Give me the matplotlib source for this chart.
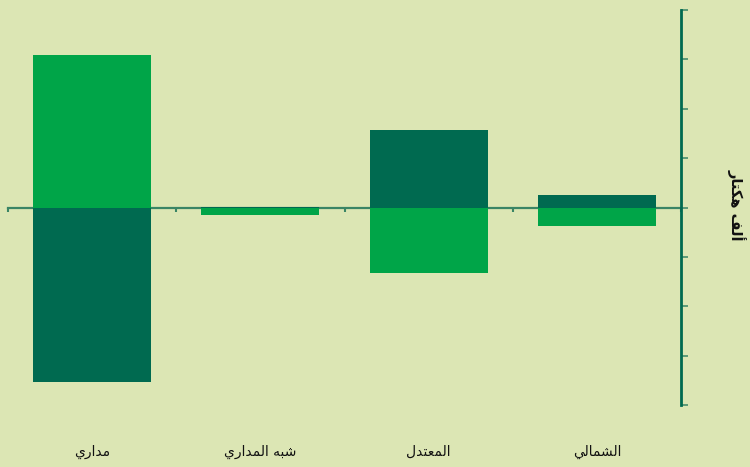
import matplotlib
matplotlib.use("Agg")
import matplotlib.pyplot as plt
import matplotlib.transforms as mtransforms

# ---- data ----
categories = ['مداري', 'شبه المداري', 'المعتدل', 'الشمالي']
light_values = [3.09, -0.15, -1.32, -0.38]
dark_values = [-3.54, 0.02, 1.57, 0.26]
y_label = 'ألف هكتار'
y_ticks = [-4, -3, -2, -1, 0, 1, 2, 3, 4]

# ---- minimal Arabic shaping (matplotlib has no complex text layout) ----
FORMS = {
    'ا': ('\uFE8D', '\uFE8E', None, None),
    'أ': ('\uFE83', '\uFE84', None, None),
    'ب': ('\uFE8F', '\uFE90', '\uFE91', '\uFE92'),
    'ت': ('\uFE95', '\uFE96', '\uFE97', '\uFE98'),
    'د': ('\uFEA9', '\uFEAA', None, None),
    'ر': ('\uFEAD', '\uFEAE', None, None),
    'ش': ('\uFEB5', '\uFEB6', '\uFEB7', '\uFEB8'),
    'ع': ('\uFEC9', '\uFECA', '\uFECB', '\uFECC'),
    'ف': ('\uFED1', '\uFED2', '\uFED3', '\uFED4'),
    'ك': ('\uFED9', '\uFEDA', '\uFEDB', '\uFEDC'),
    'ل': ('\uFEDD', '\uFEDE', '\uFEDF', '\uFEE0'),
    'م': ('\uFEE1', '\uFEE2', '\uFEE3', '\uFEE4'),
    'ه': ('\uFEE9', '\uFEEA', '\uFEEB', '\uFEEC'),
    'ي': ('\uFEF1', '\uFEF2', '\uFEF3', '\uFEF4'),
}
LAMALEF = {'ا': ('\uFEFB', '\uFEFC'), 'أ': ('\uFEF7', '\uFEF8')}


def dual(c):
    return c in FORMS and FORMS[c][2] is not None


def shape(text):
    units = []
    i = 0
    while i < len(text):
        c = text[i]
        if c == 'ل' and i + 1 < len(text) and text[i + 1] in LAMALEF:
            units.append(('LA', text[i + 1]))
            i += 2
        else:
            units.append(('C', c))
            i += 1
    out = []
    for k, (kind, c) in enumerate(units):
        prev = units[k - 1] if k > 0 else None
        nxt = units[k + 1] if k + 1 < len(units) else None
        prev_joins = prev is not None and prev[0] == 'C' and dual(prev[1])
        if kind == 'LA':
            out.append(LAMALEF[c][1] if prev_joins else LAMALEF[c][0])
            continue
        if c not in FORMS:
            out.append(c)
            continue
        next_joins = dual(c) and nxt is not None and (nxt[0] == 'LA' or nxt[1] in FORMS)
        iso, fin, ini, med = FORMS[c]
        if prev_joins and next_joins:
            out.append(med)
        elif prev_joins:
            out.append(fin)
        elif next_joins:
            out.append(ini)
        else:
            out.append(iso)
    return ''.join(out)[::-1]


# ---- styling ----
bg = '#dce6b4'
light_c = '#00a548'
dark_c = '#006a50'
axis_c = '#006a50'
zero_c = '#3a8565'

fig = plt.figure(figsize=(7.5, 4.67), dpi=100, facecolor=bg)
ax = fig.add_axes([8 / 750, 1 - 405 / 467, 673 / 750, 395 / 467])
ax.set_facecolor(bg)

x = list(range(len(categories)))
ax.bar(x, light_values, width=0.70, color=light_c, zorder=3)
ax.bar(x, dark_values, width=0.70, color=dark_c, zorder=3)

ax.set_xlim(-0.5, len(categories) - 0.5)
ax.set_ylim(y_ticks[0], y_ticks[-1])

for s in ['left', 'top']:
    ax.spines[s].set_visible(False)
ax.spines['bottom'].set_position(('data', 0))
ax.spines['bottom'].set_color(zero_c)
ax.spines['bottom'].set_linewidth(1.6)
ax.spines['bottom'].set_zorder(2)
ax.spines['right'].set_color(axis_c)
ax.spines['right'].set_linewidth(2)

ax.yaxis.tick_right()
ax.set_yticks(y_ticks)
ax.tick_params(axis='y', which='major', direction='out', length=5, width=1.1,
               color='#3a8565', labelright=False)

ax.set_xticks([i - 0.5 for i in range(len(categories) + 1)])
ax.tick_params(axis='x', direction='out', length=3, width=1.5, color=zero_c,
               labelbottom=False)

trans = mtransforms.blended_transform_factory(ax.transData, ax.transAxes)
for xi, cat in zip(x, categories):
    ax.text(xi, -0.118, shape(cat), transform=trans, ha='center', va='center',
            fontsize=10, family='DejaVu Sans', color='#111111')

fig.text(737 / 750, 1 - 205 / 467, shape(y_label), rotation=270, ha='center',
         va='center', fontsize=10.5, fontweight='bold', family='DejaVu Sans',
         color='#111111')

fig.savefig('out.png', dpi=100, facecolor=bg)
